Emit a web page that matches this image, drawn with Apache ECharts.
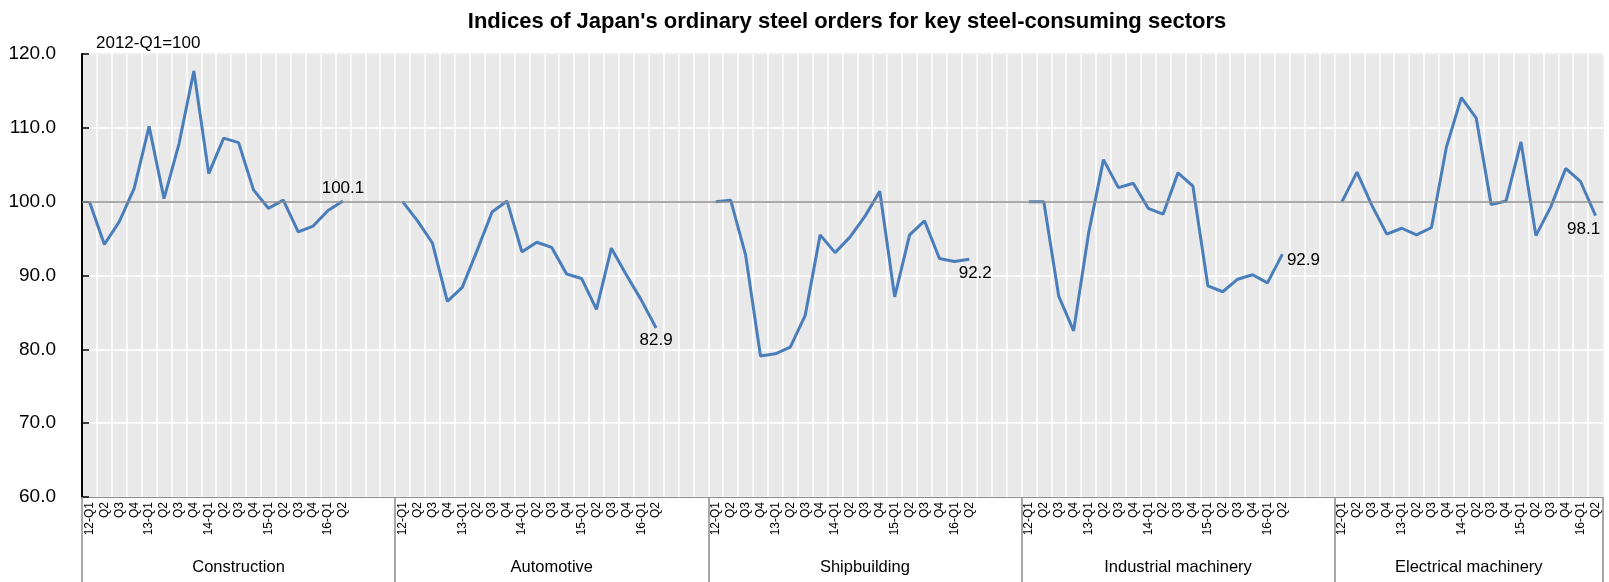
<!DOCTYPE html>
<html>
<head>
<meta charset="utf-8">
<script src="https://cdn.jsdelivr.net/npm/echarts@6/dist/echarts.min.js"></script>
<style>
  html, body { margin: 0; padding: 0; background: #fff; }
  #main { width: 1609px; height: 582px; }
</style>
</head>
<body>
<div id="main"></div>
<script>
var groups = ['Construction', 'Automotive', 'Shipbuilding', 'Industrial machinery', 'Electrical machinery'];
var quarters = ['12-Q1', 'Q2', 'Q3', 'Q4', '13-Q1', 'Q2', 'Q3', 'Q4', '14-Q1', 'Q2', 'Q3', 'Q4',
                '15-Q1', 'Q2', 'Q3', 'Q4', '16-Q1', 'Q2'];
var construction = [100.0, 94.2, 97.3, 101.8, 110.2, 100.4, 107.8, 117.7, 103.8, 108.6, 108.0, 101.6, 99.1, 100.2, 95.9, 96.7, 98.8, 100.1];
var automotive   = [100.0, 97.4, 94.4, 86.5, 88.4, 93.4, 98.6, 100.1, 93.2, 94.5, 93.8, 90.2, 89.6, 85.4, 93.7, 90.1, 86.7, 82.9];
var shipbuilding = [100.0, 100.2, 92.8, 79.1, 79.4, 80.3, 84.6, 95.5, 93.1, 95.2, 98.0, 101.4, 87.1, 95.5, 97.4, 92.3, 91.9, 92.2];
var industrial   = [100.0, 100.0, 87.2, 82.5, 95.7, 105.7, 101.9, 102.5, 99.1, 98.3, 103.9, 102.1, 88.6, 87.8, 89.5, 90.1, 89.0, 92.9];
var electrical   = [100.0, 104.0, 99.5, 95.6, 96.4, 95.5, 96.5, 107.4, 114.1, 111.3, 99.6, 100.1, 108.1, 95.4, 99.3, 104.5, 102.7, 98.1];
var gap = 3;

var seriesValues = [construction, automotive, shipbuilding, industrial, electrical];
var endLabels = [
  { position: 'top', distance: 4 },
  { position: 'bottom', distance: 3 },
  { position: 'bottom', distance: 5, offset: [6, 0] },
  { position: 'right', distance: 4, offset: [0, 6] },
  { position: 'bottom', distance: 5, offset: [-12, 0] }
];

var font = "'Liberation Sans', Arial, sans-serif";

var categories = [], data = [], groupStarts = [], groupCenters = [];
seriesValues.forEach(function (vals, g) {
  groupStarts.push(categories.length);
  var n = vals.length + (g < seriesValues.length - 1 ? gap : 0);
  groupCenters.push(categories.length + n / 2);
  vals.forEach(function (v, i) {
    categories.push(quarters[i]);
    if (i === vals.length - 1) {
      data.push({
        value: v, symbol: 'circle', symbolSize: 1,
        itemStyle: { color: 'rgba(0,0,0,0)' },
        label: Object.assign({ show: true }, endLabels[g])
      });
    } else {
      data.push(v);
    }
  });
  if (g < seriesValues.length - 1) {
    for (var k = 0; k < gap; k++) { categories.push(''); data.push(null); }
  }
});
groupStarts.push(categories.length);

var myChart = echarts.init(document.getElementById('main'));
var option = {
  animation: false,
  title: [
    {
      text: "Indices of Japan's ordinary steel orders for key steel-consuming sectors",
      left: 842, top: 6, textAlign: 'center',
      textStyle: { fontFamily: font, fontSize: 22, fontWeight: 'bold', color: '#000' }
    },
    {
      text: '2012-Q1=100',
      left: 91, top: 30,
      textStyle: { fontFamily: font, fontSize: 17, fontWeight: 'normal', color: '#000' }
    }
  ],
  grid: {
    left: 82, right: 6, top: 54, bottom: 85,
    show: true, backgroundColor: '#e9e9e9', borderColor: '#8c8c8c', borderWidth: 1
  },
  xAxis: [
    {
      type: 'category',
      data: categories,
      axisLine: { lineStyle: { color: '#8c8c8c', width: 1 } },
      axisTick: { show: false },
      axisLabel: {
        interval: 0, rotate: 90, margin: 5,
        fontFamily: font, fontSize: 12, color: '#000'
      },
      splitLine: { show: true, interval: 0, lineStyle: { color: '#ffffff', width: 1.5 } }
    },
    {
      type: 'value',
      position: 'bottom',
      min: 0, max: categories.length,
      axisLine: { show: false },
      splitLine: { show: false },
      axisTick: { show: true, customValues: groupStarts, length: 85, lineStyle: { color: '#8c8c8c', width: 1.5 } },
      axisLabel: {
        customValues: groupCenters, margin: 62,
        fontFamily: font, fontSize: 16.5, color: '#000',
        formatter: function (v) { return groups[groupCenters.indexOf(v)] || ''; }
      }
    }
  ],
  yAxis: {
    type: 'value',
    min: 60, max: 120, interval: 10,
    axisLine: { show: true, lineStyle: { color: '#000', width: 2 } },
    axisTick: { show: true, inside: true, length: 7, lineStyle: { color: '#000', width: 1.5 } },
    axisLabel: {
      margin: 26, fontFamily: font, fontSize: 19, color: '#000',
      formatter: function (v) { return v.toFixed(1); }
    },
    splitLine: { show: true, lineStyle: { color: '#ffffff', width: 1.5 } }
  },
  series: [
    {
      type: 'line',
      xAxisIndex: 0,
      data: data,
      symbol: 'none',
      showSymbol: true,
      connectNulls: false,
      lineStyle: { color: '#4a7ebb', width: 3 },
      label: { fontFamily: font, fontSize: 17, color: '#000' },
      markLine: {
        silent: true, symbol: 'none',
        label: { show: false },
        lineStyle: { color: '#8c8c8c', width: 1.5, type: 'solid' },
        data: [{ yAxis: 100 }]
      },
      z: 3
    }
  ]
};
myChart.setOption(option);
</script>
</body>
</html>
